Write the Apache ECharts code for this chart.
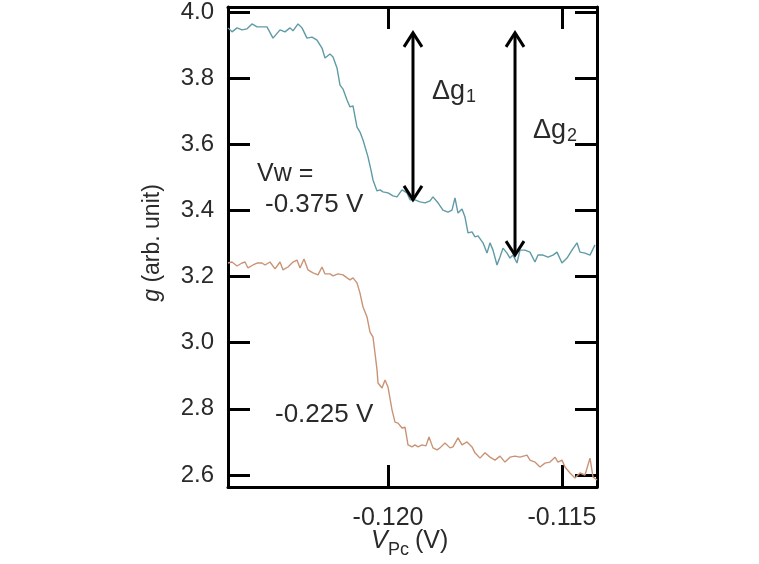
<!DOCTYPE html>
<html>
<head>
<meta charset="utf-8">
<script src="https://cdn.jsdelivr.net/npm/echarts@6/dist/echarts.min.js"></script>
<style>
html,body{margin:0;padding:0;background:#fff;}
#chart{width:759px;height:564px;}
</style>
</head>
<body>
<div id="chart"></div>
<script>
// ---- data ----
const xTicks = [-0.120, -0.115];
const yTicks = [2.6, 2.8, 3.0, 3.2, 3.4, 3.6, 3.8, 4.0];

const blueX = [-0.124598,-0.124483,-0.124339,-0.124195,-0.124052,-0.123908,-0.123764,-0.123621,-0.123477,-0.123305,-0.123103,-0.122960,-0.122816,-0.122730,-0.122586,-0.122471,-0.122328,-0.122184,-0.122040,-0.121897,-0.121810,-0.121667,-0.121580,-0.121466,-0.121379,-0.121293,-0.121178,-0.121092,-0.121006,-0.120891,-0.120805,-0.120718,-0.120575,-0.120489,-0.120431,-0.120316,-0.120230,-0.120144,-0.120000,-0.119856,-0.119741,-0.119598,-0.119454,-0.119368,-0.119224,-0.119080,-0.118937,-0.118793,-0.118707,-0.118563,-0.118420,-0.118276,-0.118161,-0.118075,-0.117989,-0.117874,-0.117787,-0.117701,-0.117586,-0.117500,-0.117414,-0.117270,-0.117155,-0.117069,-0.116983,-0.116868,-0.116782,-0.116695,-0.116580,-0.116494,-0.116408,-0.116293,-0.116207,-0.116063,-0.115920,-0.115776,-0.115690,-0.115546,-0.115402,-0.115259,-0.115144,-0.115000,-0.114856,-0.114713,-0.114569,-0.114483,-0.114339,-0.114195,-0.114052];
const blueY = [3.952,3.940,3.952,3.946,3.949,3.964,3.955,3.955,3.955,3.921,3.946,3.940,3.952,3.943,3.964,3.952,3.921,3.924,3.915,3.891,3.861,3.873,3.864,3.831,3.779,3.767,3.734,3.713,3.716,3.652,3.637,3.613,3.562,3.522,3.492,3.459,3.462,3.456,3.453,3.444,3.441,3.462,3.453,3.432,3.432,3.426,3.423,3.429,3.441,3.423,3.401,3.395,3.401,3.438,3.392,3.404,3.380,3.332,3.335,3.320,3.323,3.302,3.271,3.302,3.280,3.235,3.259,3.286,3.271,3.256,3.265,3.241,3.280,3.280,3.274,3.244,3.265,3.265,3.259,3.265,3.274,3.241,3.256,3.280,3.302,3.274,3.271,3.265,3.296];

const orangeX = [-0.124598,-0.124483,-0.124339,-0.124195,-0.124109,-0.124023,-0.123879,-0.123764,-0.123621,-0.123534,-0.123391,-0.123247,-0.123103,-0.123017,-0.122874,-0.122730,-0.122615,-0.122529,-0.122414,-0.122299,-0.122155,-0.122011,-0.121897,-0.121810,-0.121667,-0.121580,-0.121437,-0.121293,-0.121178,-0.121092,-0.121006,-0.120891,-0.120805,-0.120718,-0.120603,-0.120517,-0.120431,-0.120374,-0.120316,-0.120287,-0.120172,-0.120086,-0.120000,-0.119885,-0.119799,-0.119713,-0.119598,-0.119511,-0.119425,-0.119310,-0.119224,-0.119138,-0.119023,-0.118908,-0.118822,-0.118707,-0.118592,-0.118506,-0.118362,-0.118218,-0.118132,-0.117989,-0.117874,-0.117730,-0.117586,-0.117500,-0.117356,-0.117213,-0.117069,-0.116925,-0.116782,-0.116638,-0.116494,-0.116351,-0.116207,-0.116006,-0.115920,-0.115776,-0.115632,-0.115489,-0.115345,-0.115201,-0.115115,-0.115000,-0.114914,-0.114770,-0.114626,-0.114483,-0.114339,-0.114195,-0.114109,-0.113994];
const orangeY = [3.241,3.244,3.232,3.241,3.244,3.226,3.235,3.241,3.241,3.235,3.244,3.223,3.244,3.220,3.229,3.244,3.250,3.226,3.253,3.220,3.211,3.205,3.229,3.208,3.208,3.202,3.208,3.205,3.196,3.190,3.196,3.181,3.150,3.108,3.078,3.032,3.017,2.969,2.918,2.878,2.863,2.887,2.866,2.797,2.760,2.757,2.742,2.745,2.691,2.685,2.691,2.685,2.691,2.688,2.715,2.682,2.676,2.682,2.697,2.682,2.685,2.712,2.691,2.700,2.685,2.667,2.651,2.667,2.654,2.645,2.657,2.639,2.654,2.657,2.654,2.660,2.645,2.639,2.624,2.636,2.639,2.654,2.639,2.645,2.624,2.606,2.591,2.606,2.600,2.651,2.594,2.585];

// arrows: [x, yTop, yBottom]
const arrowX = [-0.119282, -0.116350];
const arrowTop = [3.937, 3.937];
const arrowBottom = [3.432, 3.265];

const xMin = -0.124598, xMax = -0.113994;
const yMin = 2.5637, yMax = 4.0151;

const FONT = 'Liberation Sans, Arial, sans-serif';
const TXT = '#2a2a2a';

function zip(a, b) { return a.map((v, i) => [v, b[i]]); }

const chart = echarts.init(document.getElementById('chart'), null, {renderer: 'canvas'});

const axisLineStyle = {show: true, onZero: false, lineStyle: {color: '#000', width: 3}};
function xAxis(pos, showLabel) {
  return {
    type: 'value', position: pos, min: xMin, max: xMax,
    axisLine: axisLineStyle,
    axisTick: {show: true, inside: true, length: 22, lineStyle: {color: '#000', width: 3}, customValues: xTicks},
    axisLabel: {show: showLabel, customValues: xTicks, formatter: v => v.toFixed(3), fontSize: 25, color: TXT, fontFamily: FONT, margin: 19},
    splitLine: {show: false}
  };
}
function yAxis(pos, showLabel) {
  return {
    type: 'value', position: pos, min: yMin, max: yMax,
    axisLine: axisLineStyle,
    axisTick: {show: true, inside: true, length: 22, lineStyle: {color: '#000', width: 3}, customValues: yTicks},
    axisLabel: {show: showLabel, customValues: yTicks, formatter: v => v.toFixed(1), fontSize: 24, color: TXT, fontFamily: FONT, margin: 14},
    splitLine: {show: false}
  };
}

const arrowData = arrowX.map((x, i) => [x, arrowTop[i], arrowBottom[i]]);

chart.setOption({
  animation: false,
  backgroundColor: '#fff',
  grid: {left: 228, right: 162, top: 7, bottom: 77, containLabel: false},
  xAxis: [xAxis('bottom', true), xAxis('top', false)],
  yAxis: [yAxis('left', true), yAxis('right', false)],
  series: [
    {type: 'line', data: zip(blueX, blueY), showSymbol: false, lineStyle: {color: '#5f9ba6', width: 1.4}, z: 3},
    {type: 'line', data: zip(orangeX, orangeY), showSymbol: false, lineStyle: {color: '#c99476', width: 1.4}, z: 3},
    {
      type: 'custom', data: arrowData, z: 5,
      renderItem: function (params, api) {
        const top = api.coord([api.value(0), api.value(1)]);
        const bot = api.coord([api.value(0), api.value(2)]);
        const hw = 9, hh = 14;
        const st = {stroke: '#000', lineWidth: 3, fill: null};
        return {
          type: 'group',
          children: [
            {type: 'line', shape: {x1: top[0], y1: top[1] + 1, x2: bot[0], y2: bot[1] - 1}, style: st},
            {type: 'polyline', shape: {points: [[top[0] - hw, top[1] + hh], [top[0], top[1]], [top[0] + hw, top[1] + hh]]}, style: st},
            {type: 'polyline', shape: {points: [[bot[0] - hw, bot[1] - hh], [bot[0], bot[1]], [bot[0] + hw, bot[1] - hh]]}, style: st}
          ]
        };
      }
    }
  ],
  graphic: [
    {type: 'text', x: 432, y: 92, style: {text: '\u0394g', font: '27px ' + FONT, fill: TXT, textVerticalAlign: 'middle'}},
    {type: 'text', x: 466, y: 97, style: {text: '1', font: '18px ' + FONT, fill: TXT, textVerticalAlign: 'middle'}},
    {type: 'text', x: 533, y: 131, style: {text: '\u0394g', font: '27px ' + FONT, fill: TXT, textVerticalAlign: 'middle'}},
    {type: 'text', x: 567, y: 136, style: {text: '2', font: '18px ' + FONT, fill: TXT, textVerticalAlign: 'middle'}},
    {type: 'text', x: 257, y: 174, style: {text: 'Vw =', font: '25px ' + FONT, fill: TXT, textVerticalAlign: 'middle'}},
    {type: 'text', x: 265, y: 205, style: {text: '-0.375 V', font: '26px ' + FONT, fill: TXT, textVerticalAlign: 'middle'}},
    {type: 'text', x: 275, y: 415, style: {text: '-0.225 V', font: '26px ' + FONT, fill: TXT, textVerticalAlign: 'middle'}},
    {type: 'text', x: 153, y: 243, rotation: Math.PI / 2,
      style: {text: '{i|g} (arb. unit)', rich: {i: {fontStyle: 'italic', fontSize: 23, fontFamily: FONT, fill: TXT}}, font: '23px ' + FONT, fill: TXT, textAlign: 'center', textVerticalAlign: 'middle'}},
    {type: 'text', x: 371, y: 541, style: {text: 'V', font: 'italic 25px ' + FONT, fill: TXT, textVerticalAlign: 'middle'}},
    {type: 'text', x: 388, y: 550, style: {text: 'Pc', font: '18px ' + FONT, fill: TXT, textVerticalAlign: 'middle'}},
    {type: 'text', x: 415, y: 541, style: {text: '(V)', font: '25px ' + FONT, fill: TXT, textVerticalAlign: 'middle'}}
  ]
});
</script>
</body>
</html>
